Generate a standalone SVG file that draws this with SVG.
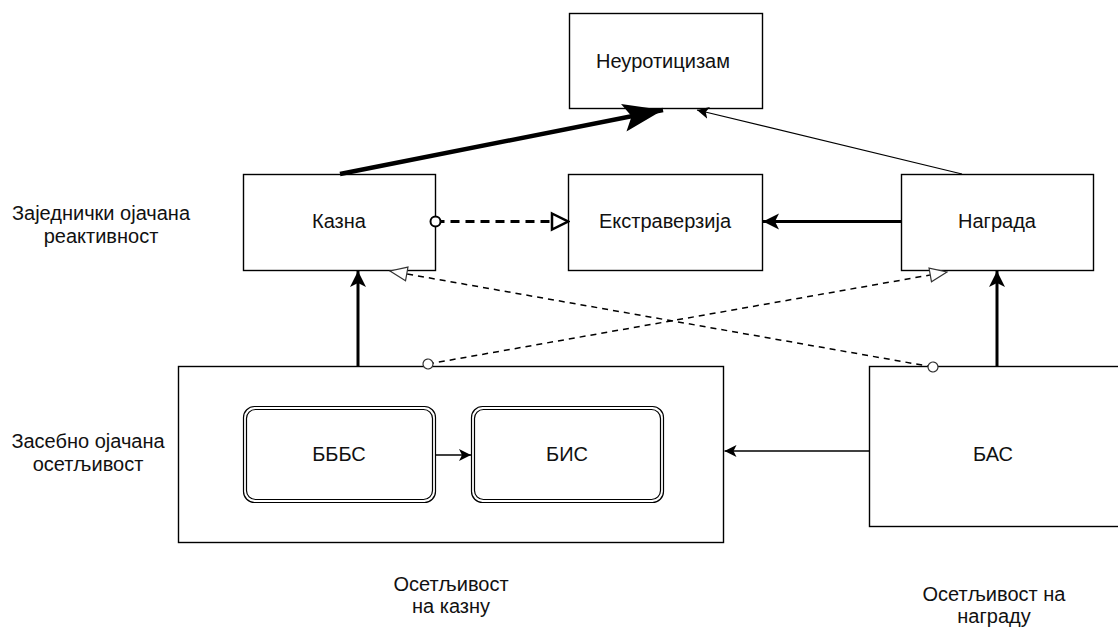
<svg xmlns="http://www.w3.org/2000/svg" width="1118" height="628" viewBox="0 0 1118 628">
<defs>
<style>
.box{fill:#fff;stroke:#000;stroke-width:1.4}
.rbox{fill:#fff;stroke:#000;stroke-width:1.2}
.t{font-family:"Liberation Sans",Arial,sans-serif;font-size:20px;fill:#111;text-anchor:middle}
.lbl{font-family:"Liberation Sans",Arial,sans-serif;font-size:20px;fill:#111;text-anchor:middle}
.e{fill:none;stroke:#000}
</style>
<marker id="bigArrow" markerUnits="userSpaceOnUse" viewBox="0 -16 40 32" refX="40" refY="0" markerWidth="40" markerHeight="32" orient="auto">
<path d="M0,-14 L40,0 L0,14 L8,0 Z" fill="#000"/>
</marker>
<marker id="arrow3" markerUnits="userSpaceOnUse" viewBox="0 -9 16 18" refX="16" refY="0" markerWidth="16" markerHeight="18" orient="auto">
<path d="M0,-8 L16,0 L0,8 L4,0 Z" fill="#000"/>
</marker>
<marker id="arrow1" markerUnits="userSpaceOnUse" viewBox="0 -7 12 14" refX="12" refY="0" markerWidth="12" markerHeight="14" orient="auto">
<path d="M0,-6 L12,0 L0,6 L3,0 Z" fill="#000"/>
</marker>
<marker id="openTri3" markerUnits="userSpaceOnUse" viewBox="-2 -11 20 22" refX="16" refY="0" markerWidth="20" markerHeight="22" orient="auto">
<path d="M0,-8 L16,0 L0,8 Z" fill="#fff" stroke="#000" stroke-width="2.5" stroke-linejoin="miter"/>
</marker>
<marker id="openTri1" markerUnits="userSpaceOnUse" viewBox="-2 -9 20 18" refX="17" refY="0" markerWidth="20" markerHeight="18" orient="auto">
<path d="M0,-7 L17,0 L0,7 Z" fill="#fff" stroke="#333" stroke-width="1.2"/>
</marker>
<marker id="circ3" markerUnits="userSpaceOnUse" viewBox="-8 -8 16 16" refX="0" refY="0" markerWidth="16" markerHeight="16" orient="auto">
<circle r="5" fill="#fff" stroke="#000" stroke-width="2"/>
</marker>
<marker id="circ1" markerUnits="userSpaceOnUse" viewBox="-7 -7 14 14" refX="0" refY="0" markerWidth="14" markerHeight="14" orient="auto">
<circle r="5" fill="#fff" stroke="#333" stroke-width="1.2"/>
</marker>
</defs>
<rect width="1118" height="628" fill="#fff"/>

<g id="labels">
<text class="lbl" x="101" y="220">Заједнички ојачана</text>
<text class="lbl" x="101" y="243">реактивност</text>
<text class="lbl" x="88" y="448">Засебно ојачана</text>
<text class="lbl" x="88" y="471">осетљивост</text>
<text class="lbl" x="451" y="591">Осетљивост</text>
<text class="lbl" x="451" y="613">на казну</text>
<text class="lbl" x="994" y="601">Осетљивост на</text>
<text class="lbl" x="994" y="623">награду</text>
</g>

<g id="node-sensPunish">
<rect class="box" x="178.5" y="366.5" width="545" height="176"/>
</g>
<g id="node-bas">
<rect class="box" x="869.5" y="366.5" width="250" height="160"/>
<text class="t" x="993" y="461">БАС</text>
</g>
<g id="node-neuro">
<rect class="box" x="569.5" y="13.5" width="193" height="95"/>
<text class="t" x="663" y="68">Неуротицизам</text>
</g>
<g id="node-kazna">
<rect class="box" x="243.5" y="174.5" width="192" height="96"/>
<text class="t" x="339" y="228">Казна</text>
</g>
<g id="node-extra">
<rect class="box" x="568.5" y="174.5" width="194" height="96"/>
<text class="t" x="665" y="228">Екстраверзија</text>
</g>
<g id="node-nagrada">
<rect class="box" x="901.5" y="174.5" width="192" height="96"/>
<text class="t" x="997" y="228">Награда</text>
</g>
<g id="node-bbbs">
<rect class="rbox" x="243.5" y="406.5" width="192" height="96" rx="11"/>
<rect class="rbox" x="246.5" y="409.5" width="186" height="90" rx="9"/>
<text class="t" x="339" y="461">БББС</text>
</g>
<g id="node-bis">
<rect class="rbox" x="471.5" y="406.5" width="192" height="96" rx="11"/>
<rect class="rbox" x="474.5" y="409.5" width="186" height="90" rx="9"/>
<text class="t" x="567" y="461">БИС</text>
</g>

<g id="connectors">
<line class="e" x1="340" y1="174" x2="663" y2="110" stroke-width="4.5" marker-end="url(#bigArrow)"/>
<line class="e" x1="962" y1="174" x2="697" y2="110" stroke-width="1.2" marker-end="url(#arrow1)"/>
<line class="e" x1="435.5" y1="221.5" x2="568" y2="221.5" stroke-width="3" stroke-dasharray="9 6" marker-start="url(#circ3)" marker-end="url(#openTri3)"/>
<line class="e" x1="901" y1="221.5" x2="763" y2="221.5" stroke-width="3" marker-end="url(#arrow3)"/>
<line class="e" x1="358" y1="366" x2="358" y2="271" stroke-width="3" marker-end="url(#arrow3)"/>
<line class="e" x1="997" y1="366" x2="997" y2="271" stroke-width="3" marker-end="url(#arrow3)"/>
<line class="e" x1="428" y1="364" x2="947" y2="272" stroke="#333" stroke-width="1.5" stroke-dasharray="6 5" marker-start="url(#circ1)" marker-end="url(#openTri1)"/>
<line class="e" x1="933" y1="367" x2="390" y2="271" stroke="#333" stroke-width="1.5" stroke-dasharray="6 5" marker-start="url(#circ1)" marker-end="url(#openTri1)"/>
<line class="e" x1="435.5" y1="455" x2="471" y2="455" stroke-width="1.5" marker-end="url(#arrow1)"/>
<line class="e" x1="869" y1="451" x2="724.5" y2="451" stroke-width="1.5" marker-end="url(#arrow1)"/>
</g>
</svg>
